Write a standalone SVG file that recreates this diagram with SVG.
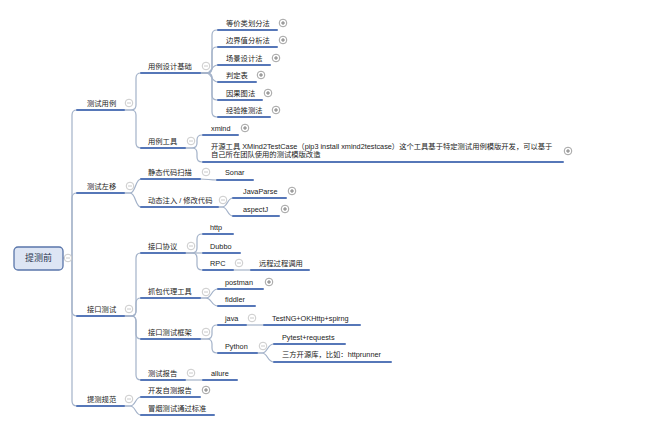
<svg xmlns="http://www.w3.org/2000/svg" width="657" height="433" viewBox="0 0 657 433">
<style>
text{font-family:"Liberation Sans","Noto Sans CJK SC",sans-serif;font-size:7.3px;fill:#222}
.root{font-size:9px;fill:#2b3550}
.ul{stroke:#5677b8;stroke-width:2;fill:none;stroke-linecap:round}
.cn{stroke:#a3b2c9;stroke-width:1.2;fill:none}
.cm{fill:#fff;stroke:#bdbdbd;stroke-width:0.8}
.cp{fill:#fff;stroke:#8a8a8a;stroke-width:0.8}
.ml{stroke:#bdbdbd;stroke-width:0.8}
.pl{stroke:#666;stroke-width:0.8}
</style>
<defs>
<g id="minus"><circle class="cm" r="3.8"/><line class="ml" x1="-2" y1="0" x2="2" y2="0"/></g>
<g id="plus"><circle class="cp" r="3.8"/><line class="pl" x1="-2" y1="0" x2="2" y2="0"/><line class="pl" x1="0" y1="-2" x2="0" y2="2"/></g>
</defs>
<rect width="657" height="433" fill="#fff"/>
<g id="connectors">
<path class="cn" d="M63,258 H72"/>
<path class="cn" d="M72,258 V115 Q72,110 77,110"/>
<path class="cn" d="M72,258 V198 Q72,193 77,193"/>
<path class="cn" d="M72,258 V311 Q72,316 77,316"/>
<path class="cn" d="M72,258 V401 Q72,406 77,406"/>
<path class="cn" d="M124,110 H131 Q136,110 136,105 V78 Q136,73 141,73"/>
<path class="cn" d="M124,110 H131 Q136,110 136,115 V143 Q136,148 141,148"/>
<path class="cn" d="M124,193 H130 C136,193 135,179 141,179"/>
<path class="cn" d="M124,193 H130 C136,193 135,207 141,207"/>
<path class="cn" d="M124,316 H131 Q136,316 136,311 V258 Q136,253 141,253"/>
<path class="cn" d="M124,316 H131 Q136,316 136,311 V303 Q136,298 141,298"/>
<path class="cn" d="M124,316 H131 Q136,316 136,321 V334 Q136,339 141,339"/>
<path class="cn" d="M124,316 H131 Q136,316 136,321 V375 Q136,380 141,380"/>
<path class="cn" d="M124,406 H130 C136,406 135,397 141,397"/>
<path class="cn" d="M124,406 H130 C136,406 135,415 141,415"/>
<path class="cn" d="M200,73 H207 Q212,73 212,68 V35 Q212,30 217,30 H218"/>
<path class="cn" d="M200,73 H207 Q212,73 212,68 V52 Q212,47 217,47 H218"/>
<path class="cn" d="M200,73 H206 C212,73 211,65 218,65"/>
<path class="cn" d="M200,73 H206 C212,73 211,82 218,82"/>
<path class="cn" d="M200,73 H207 Q212,73 212,78 V95 Q212,100 217,100 H218"/>
<path class="cn" d="M200,73 H207 Q212,73 212,78 V112 Q212,117 217,117 H218"/>
<path class="cn" d="M185,148 H192 Q197,148 197,143 V140 Q197,135 202,135 H203"/>
<path class="cn" d="M185,148 H192 Q197,148 197,153 V157 Q197,162 202,162 H203"/>
<path class="cn" d="M200,179 C208,179 209,180 217,180"/>
<path class="cn" d="M218,207 H222 C228,207 227,198 233,198"/>
<path class="cn" d="M218,207 H222 C228,207 227,216 233,216"/>
<path class="cn" d="M185,253 H192 Q197,253 197,248 V239 Q197,234 202,234 H203"/>
<path class="cn" d="M185,253 H203"/>
<path class="cn" d="M185,253 H192 Q197,253 197,258 V265 Q197,270 202,270 H203"/>
<path class="cn" d="M233,270 H251"/>
<path class="cn" d="M200,298 H206 C212,298 211,289 218,289"/>
<path class="cn" d="M200,298 H206 C212,298 211,306 218,306"/>
<path class="cn" d="M200,339 H207 Q212,339 212,334 V330 Q212,325 217,325 H218"/>
<path class="cn" d="M200,339 H207 Q212,339 212,344 V348 Q212,353 217,353 H218"/>
<path class="cn" d="M246,325 H264"/>
<path class="cn" d="M257,353 H262 C268,353 267,344 274,344"/>
<path class="cn" d="M257,353 H262 C268,353 267,362 274,362"/>
<path class="cn" d="M185,380 H203"/>
</g>
<g id="n-root">
<rect x="14" y="247" width="49" height="23" rx="4" fill="#dde5f4" stroke="#5a76aa" stroke-width="1.3"/>
<text class="root" x="38.5" y="261.3" text-anchor="middle">提测前</text>
<use href="#minus" x="68" y="258"/>
</g>
<g id="n-csyl"><text x="87" y="105.6">测试用例</text><path class="ul" d="M77,110 H124"/><use href="#minus" x="129" y="103"/></g>
<g id="n-cszy"><text x="87" y="188.6">测试左移</text><path class="ul" d="M77,193 H124"/><use href="#minus" x="130" y="186"/></g>
<g id="n-jkcs"><text x="87" y="311.6">接口测试</text><path class="ul" d="M77,316 H124"/><use href="#minus" x="129" y="309"/></g>
<g id="n-tcgf"><text x="87" y="401.6">提测规范</text><path class="ul" d="M77,406 H124"/><use href="#minus" x="129" y="399"/></g>
<g id="n-ylsjjc"><text x="148" y="68.6">用例设计基础</text><path class="ul" d="M141,73 H200"/><use href="#minus" x="206" y="66"/></g>
<g id="n-ylgj"><text x="148" y="143.6">用例工具</text><path class="ul" d="M141,148 H185"/><use href="#minus" x="191" y="141"/></g>
<g id="n-jtdm"><text x="148" y="174.6">静态代码扫描</text><path class="ul" d="M141,179 H200"/><use href="#minus" x="206" y="172"/></g>
<g id="n-dtzr"><text x="148" y="202.6">动态注入 / 修改代码</text><path class="ul" d="M141,207 H218"/><use href="#minus" x="223" y="200"/></g>
<g id="n-jkxy"><text x="148" y="248.6">接口协议</text><path class="ul" d="M141,253 H185"/><use href="#minus" x="191" y="246"/></g>
<g id="n-zbdl"><text x="148" y="293.6">抓包代理工具</text><path class="ul" d="M141,298 H200"/><use href="#minus" x="206" y="292"/></g>
<g id="n-jkcskj"><text x="148" y="334.6">接口测试框架</text><path class="ul" d="M141,339 H200"/><use href="#minus" x="206" y="332"/></g>
<g id="n-csbg"><text x="148" y="375.6">测试报告</text><path class="ul" d="M141,380 H185"/><use href="#minus" x="191" y="373"/></g>
<g id="n-kfzc"><text x="148" y="392.6">开发自测报告</text><path class="ul" d="M141,397 H200"/><use href="#plus" x="206" y="390"/></g>
<g id="n-mycs"><text x="148" y="410.6">冒烟测试通过标准</text><path class="ul" d="M141,415 H214"/></g>
<g id="n-djl"><text x="226" y="25.6">等价类划分法</text><path class="ul" d="M218,30 H277"/><use href="#plus" x="283" y="23"/></g>
<g id="n-bjz"><text x="226" y="42.6">边界值分析法</text><path class="ul" d="M218,47 H277"/><use href="#plus" x="283" y="40"/></g>
<g id="n-cjsj"><text x="226" y="60.6">场景设计法</text><path class="ul" d="M218,65 H270"/><use href="#plus" x="276" y="58"/></g>
<g id="n-pdb"><text x="226" y="77.6">判定表</text><path class="ul" d="M218,82 H256"/><use href="#plus" x="261" y="75"/></g>
<g id="n-ygt"><text x="226" y="95.6">因果图法</text><path class="ul" d="M218,100 H262"/><use href="#plus" x="268" y="93"/></g>
<g id="n-jytc"><text x="226" y="112.6">经验推测法</text><path class="ul" d="M218,117 H270"/><use href="#plus" x="276" y="110"/></g>
<g id="n-xmind"><text x="211" y="130.6">xmind</text><path class="ul" d="M203,135 H238"/><use href="#plus" x="245" y="128"/></g>
<g id="n-kygj"><text x="211" y="148.6">开源工具 XMind2TestCase（pip3 install xmind2testcase）这个工具基于特定测试用例模版开发，可以基于</text><text x="211" y="156.6">自己所在团队使用的测试模版改造</text><path class="ul" d="M203,162 H563"/><use href="#plus" x="568" y="151"/></g>
<g id="n-sonar"><text x="225" y="174.6">Sonar</text><path class="ul" d="M217,180 H253"/></g>
<g id="n-javaparse"><text x="243" y="193.6">JavaParse</text><path class="ul" d="M233,198 H286"/><use href="#plus" x="292" y="191"/></g>
<g id="n-aspectj"><text x="243" y="211.6">aspectJ</text><path class="ul" d="M233,216 H279"/><use href="#plus" x="285" y="209"/></g>
<g id="n-http"><text x="210" y="229.6">http</text><path class="ul" d="M203,234 H233"/></g>
<g id="n-dubbo"><text x="210" y="248.6">Dubbo</text><path class="ul" d="M203,253 H240"/></g>
<g id="n-rpc"><text x="210" y="265.6">RPC</text><path class="ul" d="M203,270 H233"/><use href="#minus" x="239" y="263"/></g>
<g id="n-ycgc"><text x="259" y="265.6">远程过程调用</text><path class="ul" d="M251,270 H309"/></g>
<g id="n-postman"><text x="225" y="284.6">postman</text><path class="ul" d="M218,289 H263"/><use href="#plus" x="269" y="282"/></g>
<g id="n-fiddler"><text x="225" y="301.6">fiddler</text><path class="ul" d="M218,306 H255"/></g>
<g id="n-java"><text x="225" y="320.6">java</text><path class="ul" d="M218,325 H246"/><use href="#minus" x="252" y="318"/></g>
<g id="n-testng"><text x="272" y="320.6">TestNG+OKHttp+spirng</text><path class="ul" d="M264,325 H360"/></g>
<g id="n-python"><text x="225" y="348.6">Python</text><path class="ul" d="M218,353 H257"/><use href="#minus" x="263" y="346"/></g>
<g id="n-pytest"><text x="282" y="339.6">Pytest+requests</text><path class="ul" d="M274,344 H345"/></g>
<g id="n-sfky"><text x="282" y="356.6">三方开源库，比如：httprunner</text><path class="ul" d="M274,362 H391"/></g>
<g id="n-allure"><text x="211" y="375.6">allure</text><path class="ul" d="M203,380 H237"/></g>
</svg>
